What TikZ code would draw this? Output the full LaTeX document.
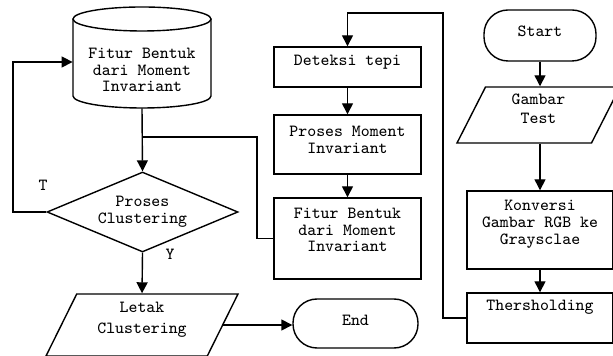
\documentclass[tikz,border=0pt]{standalone}
\usepackage{fontspec}
\usetikzlibrary{shapes.geometric,arrows.meta}

\newcommand{\flowfont}{\ttfamily\fontsize{8.5pt}{8.4pt}\selectfont}

\tikzset{
  blok/.style={draw, line width=0.7pt, font=\flowfont, align=center, inner sep=2pt},
  procbox/.style={blok, rectangle, minimum width=73.5pt},
  iobox/.style={blok, trapezium, trapezium left angle=60, trapezium right angle=120, trapezium stretches body},
  termbox/.style={blok, rectangle, rounded corners=12pt},
  decbox/.style={blok, diamond, aspect=2.4, minimum width=95pt, minimum height=40pt},
  dbtext/.style={font=\flowfont, align=center, inner sep=2pt},
  lbl/.style={font=\flowfont, inner sep=0pt},
  garis/.style={line width=0.7pt},
  panah/.style={garis, -{Triangle[length=5.5pt,width=5.5pt]}},
}

\begin{document}
\begin{tikzpicture}[x=0.5pt,y=-0.5pt]
\useasboundingbox (0,0) rectangle (613,356);

% kolom kanan
\node[termbox, minimum width=56pt, minimum height=25.5pt, text depth=4.5pt] (mulai) at (540,35.5) {Start};
\node[iobox, minimum width=81.5pt, minimum height=28pt, text depth=6pt] (gambar) at (538.5,115) {Gambar\\[1pt]Test};
\node[procbox, minimum width=73pt, minimum height=39pt, text depth=7.5pt] (konversi) at (540,230) {Konversi\\Gambar RGB ke\\Graysclae};
\node[procbox, minimum width=73pt, minimum height=25pt, text depth=12.5pt] (thres) at (540,318) {Thersholding};

% kolom tengah
\node[procbox, minimum height=20pt, text depth=6.5pt] (deteksi) at (347.5,67) {Deteksi tepi};
\node[procbox, minimum height=29.5pt, text depth=4.5pt] (moment) at (347.5,144.5) {Proses Moment\\Invariant};
\node[procbox, minimum height=40.5pt, text depth=8.5pt] (fitur) at (347.5,238.5) {Fitur Bentuk\\dari Moment\\Invariant};

% kolom kiri: database fitur (tabung digambar manual)
\node[dbtext, minimum width=69pt, minimum height=38pt] (basis) at (142,70) {Fitur Bentuk\\dari Moment\\Invariant};
\draw[garis] (142,19) ellipse [x radius=69, y radius=12];
\draw[garis] (73,19) -- (73,96) arc[start angle=180, end angle=0, x radius=69, y radius=12] -- (211,19);

\node[decbox] (cluster) at (142.5,212) {Proses\\Clustering};
\node[iobox, minimum width=96pt, minimum height=31pt, text depth=7pt] (letak) at (142,325) {Letak\\[2pt]Clustering};
\node[termbox, minimum width=62.5pt, minimum height=24.5pt, text depth=3.5pt] (selesai) at (355.5,323.5) {End};

\node[lbl] (t) at (43,185) {T};
\node[lbl] (y) at (170,254) {Y};

% titik belok
\coordinate (cabang) at (142,137);
\coordinate (belok) at (257,137);
\coordinate (kiri) at (13,62);
\coordinate (atas) at (443,13);

\draw[panah] (mulai.south) -- (mulai.south |- gambar.north);
\draw[panah] (konversi.north |- gambar.south) -- (konversi.north);
\draw[panah] (konversi.south) -- (thres.north);
\draw[panah] (thres.west) -| (atas) -| (deteksi.north);
\draw[panah] (deteksi.south) -- (moment.north);
\draw[panah] (moment.south) -- (fitur.north);
\draw[garis] (fitur.west) -| (belok) -- (cabang);
\draw[panah] (basis.south) -- (cluster.north);
\draw[panah] (cluster.west) -| (kiri) -- (kiri -| basis.west);
\draw[panah] (cluster.south) -- (letak.north);
\draw[panah] (letak.east) -- (letak.east -| selesai.west);
\end{tikzpicture}
\end{document}
